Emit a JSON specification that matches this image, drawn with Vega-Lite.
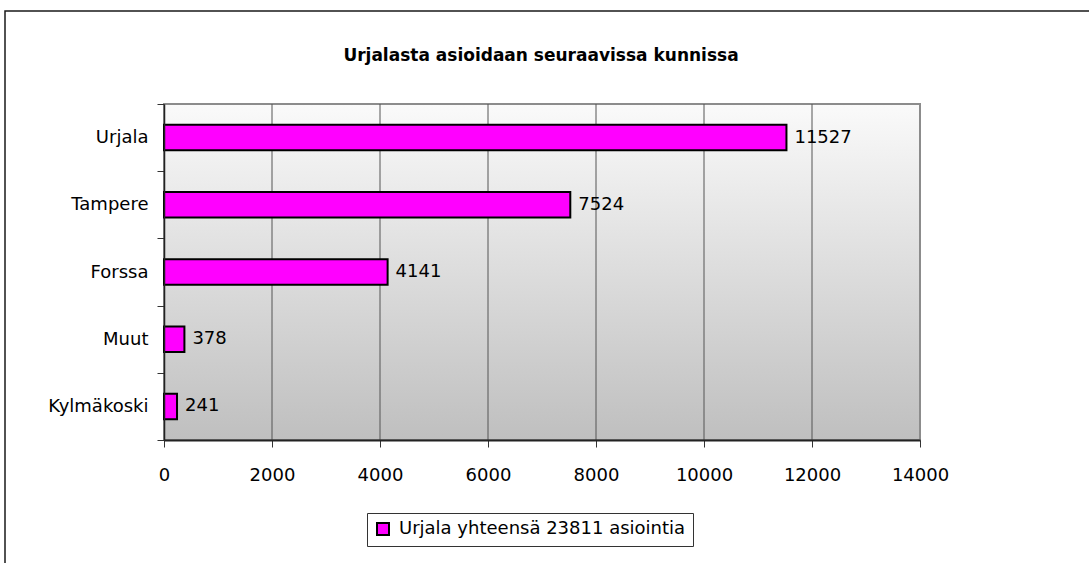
{
  "$schema": "https://vega.github.io/schema/vega-lite/v6.json",
  "autosize": "none",
  "padding": {"left": 5, "top": 11, "right": -10, "bottom": -10},
  "width": 1094,
  "height": 562,
  "background": "white",
  "title": {
    "text": "Urjalasta asioidaan seuraavissa kunnissa",
    "font": "DejaVu Sans",
    "fontWeight": "bold",
    "fontSize": 17,
    "color": "#000",
    "anchor": "middle",
    "frame": "group",
    "baseline": "alphabetic",
    "offset": -76,
    "dx": -11
  },
  "datasets": {
    "kunnat": [
      {"kunta": "Urjala", "asioinnit": 11527},
      {"kunta": "Tampere", "asioinnit": 7524},
      {"kunta": "Forssa", "asioinnit": 4141},
      {"kunta": "Muut", "asioinnit": 378},
      {"kunta": "Kylmäkoski", "asioinnit": 241}
    ],
    "ruudukko": [
      {"arvo": 2000}, {"arvo": 4000}, {"arvo": 6000}, {"arvo": 8000}, {"arvo": 10000}, {"arvo": 12000}
    ],
    "kuva_ala": [{"alue": "piirtoalue"}]
  },
  "layer": [
    {
      "layer": [
        {
          "data": {"name": "kuva_ala"},
          "mark": {
            "type": "rect",
            "fill": {
              "gradient": "linear", "x1": 0, "y1": 0, "x2": 0, "y2": 1,
              "stops": [{"offset": 0, "color": "#fafafa"}, {"offset": 1, "color": "#bfbfbf"}]
            },
            "stroke": "#8c8c8c",
            "strokeWidth": 2
          },
          "encoding": {
            "x": {"datum": 0, "type": "quantitative", "scale": {"domain": [0, 14000], "range": [159, 915], "nice": false, "zero": true}},
            "x2": {"datum": 14000},
            "y": {"datum": 0, "type": "quantitative", "scale": {"domain": [0, 1], "range": [429, 93], "nice": false}, "axis": null},
            "y2": {"datum": 1}
          }
        },
        {
          "data": {"name": "ruudukko"},
          "mark": {"type": "rule", "color": "#555555", "strokeWidth": 1},
          "encoding": {
            "x": {"field": "arvo", "type": "quantitative", "scale": {"domain": [0, 14000], "range": [159, 915], "nice": false, "zero": true}},
            "y": {"datum": 0, "type": "quantitative", "axis": null},
            "y2": {"datum": 1}
          }
        }
      ]
    },
    {
      "data": {"name": "kunnat"},
      "layer": [
        {
          "mark": {"type": "bar", "stroke": "#000", "strokeWidth": 2, "height": {"band": 0.38}, "opacity": 1},
          "encoding": {
            "x": {
              "field": "asioinnit", "type": "quantitative",
              "scale": {"domain": [0, 14000], "range": [159, 915], "nice": false, "zero": true},
              "axis": {
                "orient": "bottom",
                "title": null,
                "values": [0, 2000, 4000, 6000, 8000, 10000, 12000, 14000],
                "format": "d",
                "grid": false,
                "domainColor": "#222",
                "domainWidth": 2,
                "tickColor": "#333",
                "tickSize": 7,
                "tickWidth": 1,
                "labelFont": "DejaVu Sans",
                "labelFontSize": 18,
                "labelColor": "#000",
                "labelPadding": 19,
                "labelFlush": false,
                "labelOverlap": false,
                "offset": -133,
                "zindex": 1
              }
            },
            "y": {
              "field": "kunta", "type": "nominal",
              "sort": ["Urjala", "Tampere", "Forssa", "Muut", "Kylmäkoski"],
              "scale": {"range": [93, 429], "paddingInner": 0, "paddingOuter": 0},
              "axis": {
                "title": null,
                "grid": false,
                "domainColor": "#222",
                "domainWidth": 1.5,
                "tickColor": "#333",
                "tickSize": 7,
                "tickWidth": 1,
                "tickBand": "extent",
                "labelFont": "DejaVu Sans",
                "labelFontSize": 18,
                "labelColor": "#000",
                "labelPadding": 9,
                "labelLimit": 0,
                "offset": -159,
                "zindex": 1
              }
            },
            "fill": {
              "datum": "Urjala yhteensä 23811 asiointia",
              "type": "nominal",
              "scale": {"range": ["#ff00ff"]},
              "legend": {
                "orient": "none",
                "legendX": 362,
                "legendY": 502,
                "title": null,
                "strokeColor": "#333",
                "fillColor": "white",
                "padding": 7,
                "symbolType": "square",
                "symbolSize": 144,
                "symbolStrokeColor": "#000",
                "symbolStrokeWidth": 2,
                "symbolOpacity": 1,
                "labelFont": "DejaVu Sans",
                "labelFontSize": 18,
                "labelColor": "#000",
                "labelOffset": 7,
                "labelLimit": 0
              }
            }
          }
        },
        {
          "mark": {"type": "text", "align": "left", "baseline": "middle", "dx": 8, "font": "DejaVu Sans", "fontSize": 18, "color": "#000"},
          "encoding": {
            "x": {"field": "asioinnit", "type": "quantitative"},
            "y": {"field": "kunta", "type": "nominal", "sort": ["Urjala", "Tampere", "Forssa", "Muut", "Kylmäkoski"]},
            "text": {"field": "asioinnit", "type": "quantitative", "format": "d"}
          }
        }
      ]
    }
  ],
  "resolve": {"scale": {"y": "independent"}},
  "config": {
    "view": {"stroke": "#1a1a1a", "strokeWidth": 1.5, "fill": "white"},
    "font": "DejaVu Sans"
  }
}
